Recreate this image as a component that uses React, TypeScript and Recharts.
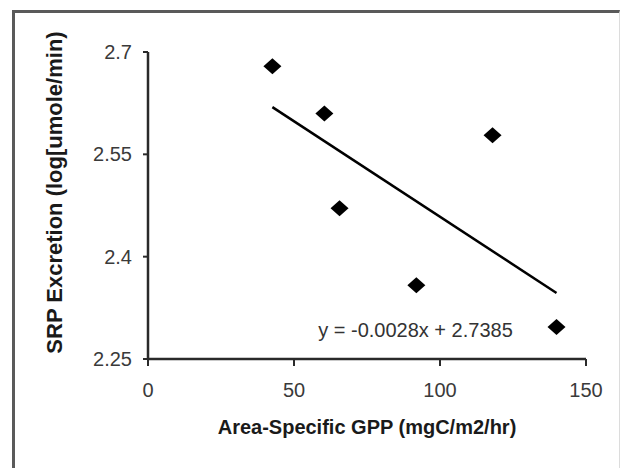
import { ScatterChart, Scatter, XAxis, YAxis, ReferenceLine, ReferenceDot, Label } from "recharts";

const gpp = [42.6, 60.4, 65.6, 91.9, 118.0, 139.9];
const srp = [2.679, 2.61, 2.471, 2.358, 2.578, 2.297];
const xTicks = [0, 50, 100, 150];
const yTicks = [2.25, 2.4, 2.55, 2.7];

// linear fit shown in the original figure
const slope = -0.0028;
const intercept = 2.7385;
const equation = "y = -0.0028x + 2.7385";
const equationAt = { x: 91.6, y: 2.2925 };

const xTitle = "Area-Specific GPP  (mgC/m2/hr)";
const yTitle = "SRP Excretion (log[umole/min)";

const points = gpp.map((x, i) => ({ x, y: srp[i] }));
const xMin = Math.min(...gpp);
const xMax = Math.max(...gpp);

const font = "'Liberation Sans', Arial, sans-serif";

const Diamond = (props: any) => {
  const { cx, cy } = props;
  if (cx == null || cy == null) return null;
  return (
    <polygon
      points={`${cx},${cy - 8} ${cx + 9},${cy} ${cx},${cy + 8} ${cx - 9},${cy}`}
      fill="#000"
    />
  );
};

const XTitle = (props: any) => {
  const { viewBox } = props;
  const cx = viewBox.x + viewBox.width / 2;
  return (
    <text x={cx} y={434} textAnchor="middle" fontFamily={font} fontSize={20} fontWeight="bold" fill="#1a1a1a">
      {xTitle}
    </text>
  );
};

const YTitle = (props: any) => {
  const { viewBox } = props;
  const cx = 62;
  const cy = viewBox.y + viewBox.height / 2 - 13;
  return (
    <text
      x={cx}
      y={cy}
      transform={`rotate(-90, ${cx}, ${cy})`}
      textAnchor="middle"
      fontFamily={font}
      fontSize={22}
      fontWeight="bold"
      fill="#1a1a1a"
    >
      {yTitle}
    </text>
  );
};

export default function App() {
  return (
    <div style={{ position: "absolute", left: 0, top: 0, width: 627, height: 468, background: "#fff" }}>
      <div
        style={{
          position: "absolute",
          left: 12,
          top: 10,
          width: 604,
          height: 456,
          borderLeft: "3px solid #5a5a5a",
          borderTop: "3px solid #5a5a5a",
          borderRight: "1px solid #dcdcdc",
          borderBottom: "1px solid #dcdcdc",
        }}
      />
      <div style={{ position: "absolute", left: 0, top: 0 }}>
        <ScatterChart width={627} height={468} margin={{ top: 52, right: 41, bottom: 49, left: 88 }}>
          <XAxis
            type="number"
            dataKey="x"
            domain={[0, 150]}
            ticks={xTicks}
            height={60}
            tickSize={7}
            tickMargin={17}
            axisLine={{ stroke: "#2a2a2a", strokeWidth: 2.5 }}
            tickLine={{ stroke: "#2a2a2a", strokeWidth: 2 }}
            tick={{ fill: "#3a3a3a", fontSize: 20, fontFamily: font }}
          >
            <Label content={<XTitle />} />
          </XAxis>
          <XAxis
            xAxisId="top"
            orientation="top"
            type="number"
            domain={[0, 150]}
            height={0}
            tick={false}
            tickLine={false}
            axisLine={{ stroke: "#8a8a8a", strokeWidth: 2 }}
          />
          <YAxis
            type="number"
            dataKey="y"
            domain={[2.25, 2.7]}
            ticks={yTicks}
            width={60}
            tickSize={5}
            tickMargin={11}
            axisLine={{ stroke: "#2a2a2a", strokeWidth: 2.5 }}
            tickLine={{ stroke: "#2a2a2a", strokeWidth: 2 }}
            tick={{ fill: "#3a3a3a", fontSize: 20, fontFamily: font }}
          >
            <Label content={<YTitle />} />
          </YAxis>
          <YAxis
            yAxisId="right"
            orientation="right"
            type="number"
            domain={[2.25, 2.7]}
            width={0}
            tick={false}
            tickLine={false}
            axisLine={{ stroke: "#8a8a8a", strokeWidth: 2 }}
          />
          <ReferenceLine
            segment={[
              { x: xMin, y: intercept + slope * xMin },
              { x: xMax, y: intercept + slope * xMax },
            ]}
            stroke="#000"
            strokeWidth={2.5}
          />
          <ReferenceDot
            x={equationAt.x}
            y={equationAt.y}
            r={0}
            fill="none"
            stroke="none"
            label={{ value: equation, position: "center", fill: "#333", fontSize: 20, fontFamily: font }}
          />
          <Scatter data={points} shape={<Diamond />} isAnimationActive={false} />
        </ScatterChart>
      </div>
    </div>
  );
}
